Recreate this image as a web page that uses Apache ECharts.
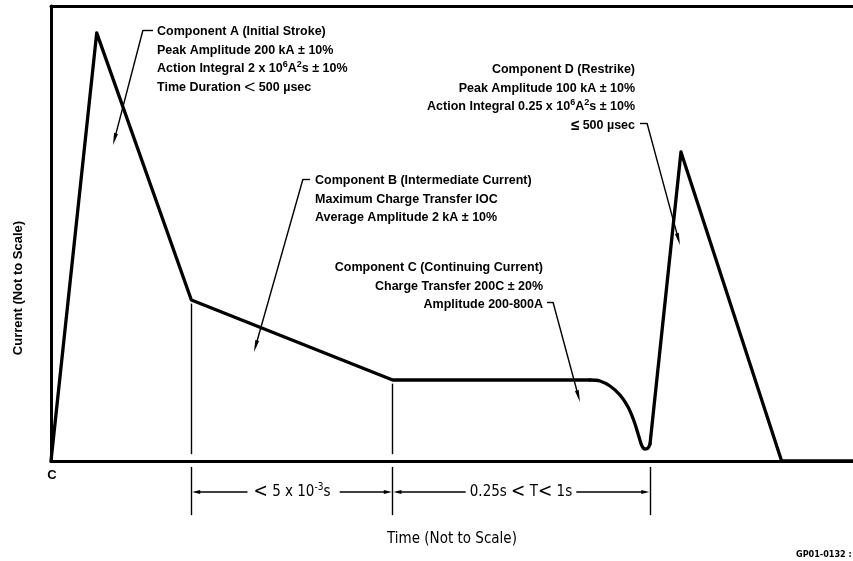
<!DOCTYPE html>
<html>
<head>
<meta charset="utf-8">
<script src="https://cdn.jsdelivr.net/npm/echarts@6/dist/echarts.min.js"></script>
<style>
  html, body { margin: 0; padding: 0; background: #fff; }
  #chart { width: 853px; height: 561px; }
</style>
</head>
<body>
<div id="chart"></div>
<script>
// Waveform in arbitrary units (the picture is "not to scale"): time 0-100, current 0-100
const time = [0, 5.7, 17.5, 42.6, 67.2, 68.45, 69.7, 70.95, 71.95, 72.69, 73.32, 73.69, 74.06, 74.44, 74.69, 78.55, 91.1, 100];
const current = [0, 94.1, 35.4, 17.8, 17.8, 17.58, 16.48, 14.51, 11.87, 8.79, 5.27, 3.3, 2.64, 2.86, 3.74, 67.91, 0, 0];
// the dip before the restrike is rounded, the rest is straight
const dipFrom = 4;
const dipTo = 14;

// component boundaries on the time axis and where their extension lines start
const boundaryTime = [17.5, 42.6, 74.7];
const boundaryTop = [34.6, 17.0, null];
const dimLevel = -6.8;      // height of the dimension arrows, below the axis
const dimBottom = -11.9;
const dimTop = -1.3;
const axisGap = 1.5;

// dimension arrows: from the label edge to the boundary
const dimSegments = [
  [[24.5, dimLevel], [18.1, dimLevel]],
  [[36.0, dimLevel], [42.0, dimLevel]],
  [[51.7, dimLevel], [43.2, dimLevel]],
  [[65.5, dimLevel], [74.1, dimLevel]]
];
const dimLabels = ["{lt|<} 5 x 10{sup|-3}s", "0.25s {lt|<} T{lt|<} 1s"];
const dimLabelAt = [[30.05, dimLevel], [58.6, dimLevel]];

// leader lines: short hook, then a line to the arrow
const leaderHooks = [
  [[12.72, 94.73], [11.47, 94.73]],
  [[32.29, 61.98], [31.42, 61.98]],
  [[61.85, 34.95], [62.59, 34.95]],
  [[73.44, 74.29], [74.31, 74.29]]
];
const leaderArrows = [
  [[11.47, 94.73], [7.92, 70.73]],
  [[31.42, 61.98], [25.51, 25.23]],
  [[62.59, 34.95], [65.76, 14.24]],
  [[74.31, 74.29], [78.23, 48.75]]
];

// annotation blocks: anchor of the first line, alignment, text
const noteA = ["Component A (Initial Stroke)", "Peak Amplitude 200 kA ± 10%", "Action Integral 2 x 10{sup|6}A{sup|2}s ± 10%", "Time Duration {lt|<} 500 µsec"];
const noteB = ["Component B (Intermediate Current)", "Maximum Charge Transfer IOC", "Average Amplitude 2 kA ± 10%"];
const noteC = ["Component C (Continuing Current)", "Charge Transfer 200C ± 20%", "Amplitude 200-800A"];
const noteD = ["Component D (Restrike)", "Peak Amplitude 100 kA ± 10%", "Action Integral 0.25 x 10{sup|6}A{sup|2}s ± 10%", "{le|≤} 500 µsec"];
const notes = [
  { at: [13.22, 94.29], align: "left", lines: noteA },
  { at: [32.92, 61.54], align: "left", lines: noteB },
  { at: [61.35, 42.42], align: "right", lines: noteC },
  { at: [72.82, 85.93], align: "right", lines: noteD }
];

const NOTE_FONT = '"Liberation Sans", Arial, sans-serif';
const DIM_FONT = '"Liberation Sans Narrow", "DejaVu Sans Condensed", "Liberation Sans", sans-serif';
const LINE_H = 18.5;

const chart = echarts.init(document.getElementById("chart"));

const hiddenAxis = {
  type: "value",
  min: 0,
  max: 100,
  axisLine: { show: true, onZero: false, lineStyle: { color: "#000", width: 3 } },
  axisTick: { show: false },
  axisLabel: { show: false },
  splitLine: { show: false }
};

const extensionLines = [];
boundaryTime.forEach((t, i) => {
  if (boundaryTop[i] != null) extensionLines.push([[t, boundaryTop[i]], [t, axisGap]]);
  extensionLines.push([[t, dimTop], [t, dimBottom]]);
});

const toLines = (list) => list.map((coords) => ({ coords }));
const points = time.map((t, i) => [t, current[i]]);

function curve(data, smooth) {
  return {
    type: "line",
    data,
    showSymbol: false,
    symbol: "none",
    smooth,
    clip: false,
    lineStyle: { color: "#000", width: 3.3, cap: "round", join: "round" }
  };
}

chart.setOption({
  animation: false,
  grid: { left: 51, right: 0, top: 6, bottom: 100 },
  xAxis: [
    {
      ...hiddenAxis,
      position: "bottom",
      name: "Time (Not to Scale)",
      nameLocation: "middle",
      nameGap: 71,
      nameTextStyle: { color: "#000", fontFamily: DIM_FONT, fontSize: 15 }
    },
    { ...hiddenAxis, position: "top" }
  ],
  yAxis: { ...hiddenAxis },
  series: [
    curve(points.slice(0, dipFrom + 1), false),
    curve(points.slice(dipFrom, dipTo + 1), 0.35),
    curve(points.slice(dipTo), false),
    {
      type: "lines",
      coordinateSystem: "cartesian2d",
      clip: false,
      symbol: "none",
      lineStyle: { color: "#000", width: 1.4, opacity: 1, curveness: 0 },
      data: toLines(extensionLines.concat(leaderHooks))
    },
    {
      type: "lines",
      coordinateSystem: "cartesian2d",
      clip: false,
      symbol: ["none", "triangle"],
      symbolSize: [0, [4, 12]],
      lineStyle: { color: "#000", width: 1.4, opacity: 1, curveness: 0 },
      data: toLines(leaderArrows)
    },
    {
      type: "lines",
      coordinateSystem: "cartesian2d",
      clip: false,
      symbol: ["none", "triangle"],
      symbolSize: [0, [4, 8]],
      lineStyle: { color: "#000", width: 1.6, opacity: 1, curveness: 0 },
      data: toLines(dimSegments)
    }
  ]
});

const toPx = (p) => chart.convertToPixel({ xAxisIndex: 0, yAxisIndex: 0 }, p);

const noteRich = {
  sup: { fontFamily: NOTE_FONT, fontWeight: "bold", fontSize: 9, lineHeight: 10, verticalAlign: "top", fill: "#000" },
  lt: { fontFamily: NOTE_FONT, fontWeight: "normal", fontSize: 19, lineHeight: LINE_H, fill: "#000" },
  le: { fontFamily: NOTE_FONT, fontWeight: "bold", fontSize: 15, lineHeight: LINE_H, fill: "#000" }
};
const dimRich = {
  sup: { fontFamily: DIM_FONT, fontSize: 10, lineHeight: 10, verticalAlign: "top", fill: "#000" },
  lt: { fontFamily: DIM_FONT, fontSize: 19, lineHeight: 20, fill: "#000" }
};

const graphics = notes.map((note) => {
  const p = toPx(note.at);
  return {
    type: "text",
    silent: true,
    x: p[0],
    y: p[1] - LINE_H / 2,
    style: {
      text: note.lines.join("\n"),
      align: note.align,
      verticalAlign: "top",
      fontFamily: NOTE_FONT,
      fontWeight: "bold",
      fontSize: 12.5,
      lineHeight: LINE_H,
      fill: "#000",
      rich: noteRich
    }
  };
});

dimLabels.forEach((label, i) => {
  const p = toPx(dimLabelAt[i]);
  graphics.push({
    type: "text",
    silent: true,
    x: p[0],
    y: p[1],
    style: {
      text: label,
      align: "center",
      verticalAlign: "middle",
      fontFamily: DIM_FONT,
      fontSize: 15,
      lineHeight: 20,
      fill: "#000",
      rich: dimRich
    }
  });
});

const origin = toPx([0, 0]);
graphics.push(
  {
    type: "text",
    silent: true,
    x: origin[0] + 1,
    y: origin[1] + 14,
    style: { text: "C", align: "center", verticalAlign: "middle", fontFamily: NOTE_FONT, fontWeight: "bold", fontSize: 13, fill: "#000" }
  },
  {
    type: "text",
    silent: true,
    x: 18,
    y: 288,
    rotation: Math.PI / 2,
    style: { text: "Current (Not to Scale)", align: "center", verticalAlign: "middle", fontFamily: NOTE_FONT, fontWeight: "bold", fontSize: 13, fill: "#000" }
  },
  {
    type: "text",
    silent: true,
    x: 796,
    y: 555,
    style: { text: "GP01-0132 :", align: "left", verticalAlign: "middle", fontFamily: DIM_FONT, fontWeight: "bold", fontSize: 9, fill: "#000" }
  }
);

chart.setOption({ graphic: graphics });
</script>
</body>
</html>
